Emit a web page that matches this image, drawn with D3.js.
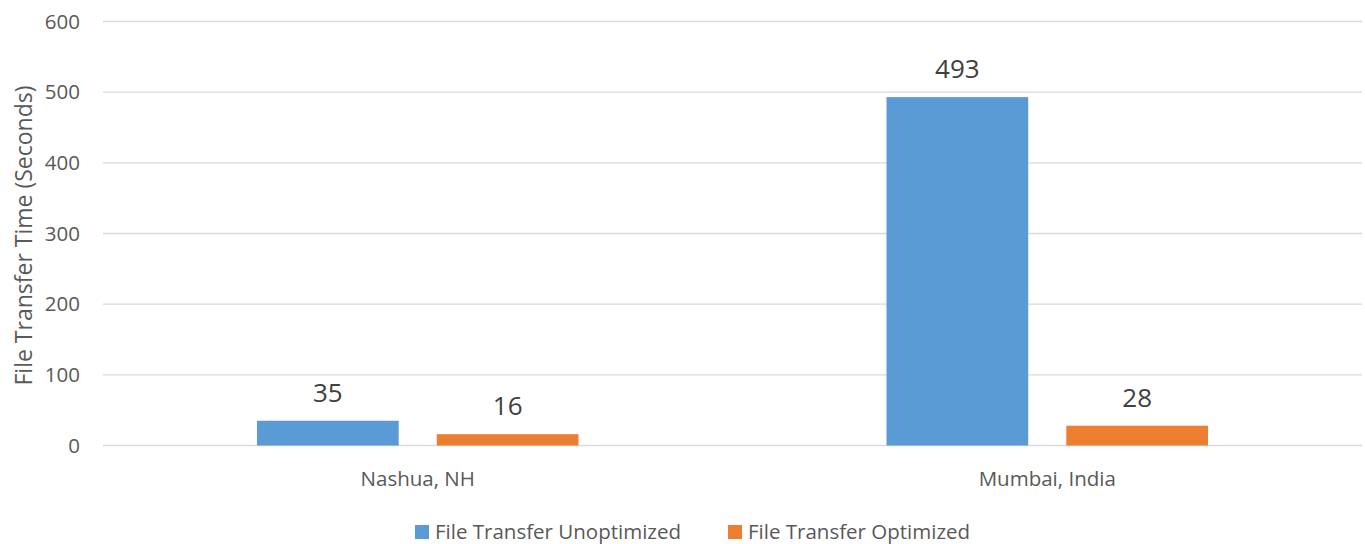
<!DOCTYPE html>
<html><head><meta charset="utf-8">
<script src="https://cdn.jsdelivr.net/npm/d3@7"></script>
<style>body{margin:0;background:#fff}svg{display:block;font-family:"Open Sans",sans-serif}</style>
</head><body><svg id="c" width="1365" height="544"></svg>
<script>
const categories = ["Nashua, NH", "Mumbai, India"];
const seriesNames = ["File Transfer Unoptimized", "File Transfer Optimized"];
const unoptimized = [35, 493];
const optimized = [16, 28];
const yTicks = [0, 100, 200, 300, 400, 500, 600];
const colors = ["#5b9bd5", "#ed7d31"];
const yTitle = "File Transfer Time (Seconds)";

const svg = d3.select("#c");
const L = 103, R = 1362, T = 21.5, B = 445.5;
const y = d3.scaleLinear().domain([0, 600]).range([B, T]);
const x0 = d3.scaleBand().domain(categories).range([L, R]).padding(0);
const x1 = d3.scaleBand().domain(seriesNames).range([154, x0.bandwidth() - 154]).paddingInner(0.212).paddingOuter(0);

// gridlines
svg.append("g").selectAll("line").data(yTicks).join("line")
  .attr("x1", L).attr("x2", R).attr("y1", d => y(d)).attr("y2", d => y(d))
  .attr("stroke", "#d9d9d9").attr("stroke-width", 1.3);

// y tick labels
svg.append("g").selectAll("text").data(yTicks).join("text")
  .attr("x", 80).attr("y", d => y(d)).attr("dy", "0.35em").attr("text-anchor", "end")
  .attr("fill", "#595959").attr("font-size", 20.5).text(d => d);

// y title
svg.append("text").attr("transform", `translate(24,${(T + B) / 2 + 2}) rotate(-90)`)
  .attr("text-anchor", "middle").attr("dy", "0.35em").attr("fill", "#595959").attr("font-size", 23).text(yTitle);

const data = categories.map((c, i) => ({cat: c, vals: [unoptimized[i], optimized[i]]}));
const g = svg.append("g").selectAll("g").data(data).join("g")
  .attr("transform", d => `translate(${x0(d.cat)},0)`);
g.selectAll("rect").data(d => d.vals.map((v, j) => ({v, s: seriesNames[j], j}))).join("rect")
  .attr("x", d => x1(d.s)).attr("width", x1.bandwidth())
  .attr("y", d => y(d.v)).attr("height", d => y(0) - y(d.v))
  .attr("fill", d => colors[d.j]);
g.selectAll("text.v").data(d => d.vals.map((v, j) => ({v, s: seriesNames[j], j}))).join("text")
  .attr("class", "v")
  .attr("x", d => x1(d.s) + x1.bandwidth() / 2).attr("y", d => y(d.v) - 19)
  .attr("text-anchor", "middle").attr("fill", "#404040").attr("font-size", 26).text(d => d.v);

// category labels
svg.append("g").selectAll("text").data(categories).join("text")
  .attr("x", d => x0(d) + x0.bandwidth() / 2).attr("y", 486)
  .attr("text-anchor", "middle").attr("fill", "#595959").attr("font-size", 20.5).text(d => d);

// legend
const leg = svg.append("g");
const legX = [415, 728];
seriesNames.forEach((s, i) => {
  leg.append("rect").attr("x", legX[i]).attr("y", 525).attr("width", 14).attr("height", 14).attr("fill", colors[i]);
  leg.append("text").attr("x", legX[i] + 20).attr("y", 538.5)
    .attr("fill", "#595959").attr("font-size", 20.5).text(s);
});
</script></body></html>
